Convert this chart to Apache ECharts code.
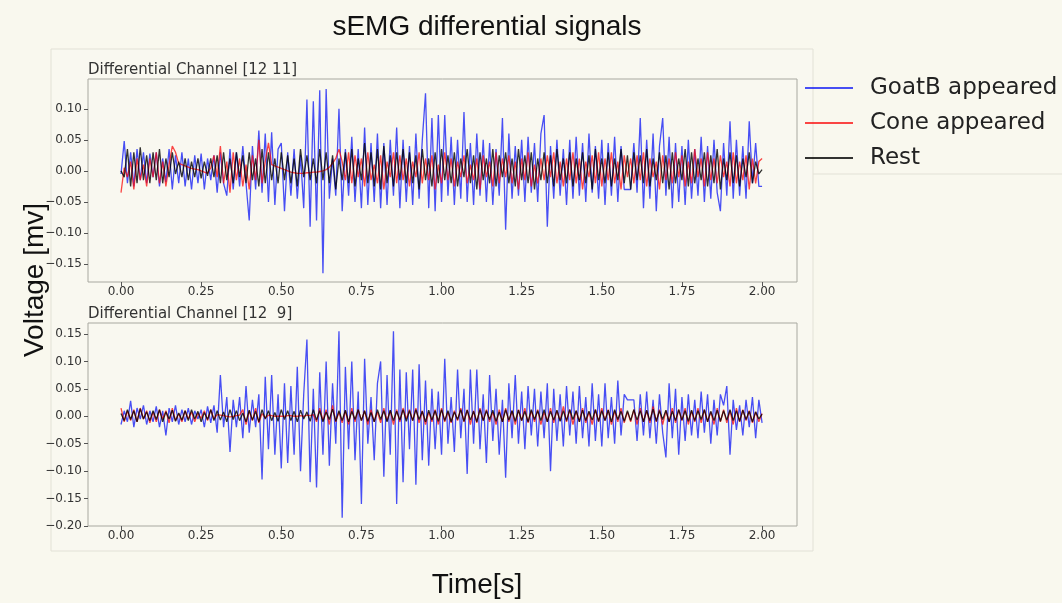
<!DOCTYPE html>
<html>
<head>
<meta charset="utf-8">
<script src="https://cdn.jsdelivr.net/npm/echarts@6/dist/echarts.min.js"></script>
<style>
html,body{margin:0;padding:0;background:#f9f8ee;}
#chart{width:1062px;height:603px;}
</style>
</head>
<body>
<div id="chart"></div>
<script>
// ---- data ----
const titleText = 'sEMG differential signals';
const yAxisTitle = 'Voltage [mv]';
const xAxisTitle = 'Time[s]';
const panelTitles = ['Differential Channel [12 11]', 'Differential Channel [12  9]'];
const seriesNames = ['GoatB appeared', 'Cone appeared', 'Rest'];
const sampleStep = 0.01; // seconds between samples, first sample at 0.00 s
const xTicks = [0, 0.25, 0.5, 0.75, 1.0, 1.25, 1.5, 1.75, 2.0];
const yTicksTop = [-0.15, -0.10, -0.05, 0.00, 0.05, 0.10];
const yTicksBottom = [-0.20, -0.15, -0.10, -0.05, 0.00, 0.05, 0.10, 0.15];

// Channel [12 11]
const goatTop = [
 -0.005, 0.048, -0.02, 0.03, -0.025, 0.035, -0.015, 0.03, -0.02, 0.028,
 -0.01, 0.03, -0.025, 0.02, -0.018, 0.035, -0.03, 0.025, -0.02, 0.03,
 -0.025, 0.02, -0.03, 0.025, -0.02, 0.028, -0.03, 0.02, -0.015, 0.025,
 -0.035, 0.03, -0.02, -0.04, 0.035, -0.03, 0.03, -0.025, 0.04, -0.02,
 -0.08, 0.04, -0.03, 0.065, -0.035, 0.06, -0.05, 0.062, -0.055, 0.035,
 0.045, -0.065, 0.03, -0.04, 0.035, -0.045, 0.025, -0.06, 0.115, -0.09,
 0.112, -0.08, 0.13, -0.165, 0.132, -0.045, 0.02, -0.04, 0.1, -0.065,
 0.035, -0.04, 0.055, -0.05, 0.035, -0.06, 0.07, -0.055, 0.045, -0.05,
 0.06, -0.06, 0.045, -0.055, 0.05, -0.04, 0.07, -0.06, 0.05, -0.05,
 0.04, -0.055, 0.06, -0.045, 0.05, 0.125, -0.06, 0.085, -0.065, 0.09,
 -0.05, 0.09, -0.04, 0.055, -0.055, 0.05, -0.045, 0.095, -0.05, 0.045,
 -0.055, 0.06, -0.04, 0.05, -0.05, 0.045, -0.055, 0.035, -0.04, 0.085,
 -0.095, 0.06, -0.045, 0.04, -0.04, 0.05, -0.05, 0.055, -0.035, 0.045,
 -0.05, 0.06, 0.09, -0.09, 0.04, -0.045, 0.05, -0.04, 0.035, -0.055,
 0.05, -0.045, 0.055, -0.04, 0.045, -0.05, 0.06, -0.035, 0.04, -0.045,
 0.05, -0.055, 0.045, -0.04, 0.055, -0.05, 0.04, -0.03, -0.03, -0.03,
 0.045, -0.035, 0.085, -0.06, 0.05, -0.045, 0.06, -0.065, 0.04, 0.085,
 -0.04, 0.055, -0.06, 0.045, -0.05, 0.04, -0.055, 0.05, -0.045, 0.035,
 -0.04, 0.055, -0.05, 0.04, -0.045, 0.05, -0.035, -0.065, 0.045, -0.04,
 0.08, -0.045, 0.05, -0.04, 0.04, -0.045, 0.08, -0.02, 0.045, -0.025,
 -0.025
];
const coneTop = [
 -0.035, 0.005, -0.01, 0.015, -0.03, 0.02, -0.015, 0.01, -0.025, 0.02,
 -0.01, 0.03, -0.02, 0.015, -0.025, 0.01, 0.04, 0.03, 0.012, 0.01,
 0.008, 0.006, 0.004, 0.003, 0.002, 0.0, -0.002, -0.004, 0.005, 0.025,
 -0.01, 0.04, -0.02, 0.015, -0.035, 0.03, -0.015, 0.02, -0.025, 0.01,
 -0.03, 0.025, -0.015, 0.05, -0.02, 0.015, 0.045, 0.01, 0.008, 0.006,
 0.004, 0.002, 0.0, -0.002, -0.003, -0.004, -0.004, -0.004, -0.003, -0.003,
 -0.002, -0.002, -0.001, 0.0, 0.002, 0.006, 0.012, 0.02, 0.035, 0.015,
 -0.015, 0.03, -0.02, 0.025, -0.01, 0.02, -0.025, 0.03, -0.015, 0.01,
 -0.02, 0.025, -0.03, 0.015, -0.01, 0.03, -0.02, 0.025, -0.015, 0.02,
 -0.025, 0.015, -0.01, 0.03, -0.02, 0.02, -0.015, 0.025, -0.03, 0.01,
 -0.02, 0.03, -0.015, 0.02, -0.025, 0.015, -0.01, 0.025, -0.02, 0.01,
 -0.015, 0.02, -0.03, 0.025, -0.01, 0.015, -0.025, 0.03, -0.02, 0.02,
 -0.01, 0.025, -0.02, 0.015, -0.03, 0.02, -0.015, 0.03, -0.025, 0.01,
 -0.02, 0.02, -0.015, 0.025, -0.01, 0.03, -0.02, 0.015, -0.025, 0.02,
 -0.015, 0.03, -0.02, 0.02, -0.03, 0.015, -0.01, 0.025, -0.02, 0.03,
 -0.025, 0.02, -0.015, 0.03, -0.02, 0.015, -0.03, 0.025, -0.01, 0.02,
 -0.02, 0.025, -0.015, 0.03, -0.025, 0.02, -0.01, 0.015, -0.03, 0.025,
 -0.015, 0.02, -0.02, 0.03, -0.01, 0.025, -0.025, 0.015, -0.02, 0.035,
 -0.01, 0.02, -0.025, 0.03, -0.015, 0.02, -0.02, 0.025, -0.01, 0.015,
 -0.025, 0.03, -0.02, 0.015, -0.015, 0.025, -0.03, 0.02, -0.02, 0.015,
 0.02
];
const restTop = [
 0.0, -0.01, 0.035, -0.025, 0.03, -0.02, 0.038, -0.015, 0.025, -0.02,
 0.03, -0.015, 0.035, -0.02, 0.02, -0.01, 0.03, -0.005, 0.015, -0.01,
 0.02, -0.015, 0.015, -0.01, 0.02, -0.012, 0.015, -0.008, 0.02, -0.01,
 0.025, -0.02, 0.03, -0.015, 0.02, -0.02, 0.03, -0.01, 0.025, -0.02,
 0.03, -0.015, 0.02, -0.025, 0.035, -0.02, 0.03, -0.015, 0.02, -0.02,
 0.03, -0.015, 0.025, -0.02, 0.02, -0.025, 0.035, -0.01, 0.025, -0.015,
 0.02, -0.02, 0.035, -0.015, 0.03, -0.02, 0.025, -0.03, 0.02, -0.015,
 0.03, -0.02, 0.035, -0.025, 0.02, -0.015, 0.045, -0.02, 0.03, -0.025,
 0.035, -0.03, 0.04, -0.02, 0.025, -0.025, 0.03, -0.015, 0.035, -0.02,
 0.03, -0.02, 0.025, -0.03, 0.035, -0.015, 0.02, -0.025, 0.03, -0.02,
 0.035, -0.015, 0.025, -0.02, 0.03, -0.025, 0.02, -0.01, 0.035, -0.02,
 0.025, -0.03, 0.03, -0.015, 0.02, -0.02, 0.035, -0.025, 0.025, -0.01,
 0.03, -0.02, 0.02, -0.025, 0.035, -0.015, 0.025, -0.02, 0.03, -0.03,
 0.02, -0.015, 0.03, -0.02, 0.025, -0.025, 0.035, -0.015, 0.02, -0.02,
 0.03, -0.025, 0.02, -0.015, 0.03, -0.02, 0.025, -0.03, 0.035, -0.015,
 0.02, -0.02, 0.03, -0.025, 0.02, -0.015, 0.035, -0.02, 0.025, -0.03,
 0.03, -0.015, 0.025, -0.02, 0.035, -0.025, 0.02, -0.015, 0.03, -0.02,
 0.025, -0.03, 0.03, -0.02, 0.02, -0.015, 0.035, -0.025, 0.03, -0.02,
 0.02, -0.015, 0.03, -0.025, 0.025, -0.02, 0.035, -0.03, 0.02, -0.015,
 0.03, -0.02, 0.025, -0.025, 0.02, -0.01, 0.03, -0.02, 0.015, -0.005,
 0.002
];

// Channel [12 9]
const goatBottom = [
 -0.015, 0.01, -0.01, 0.028, -0.02, 0.015, -0.005, 0.02, -0.015, 0.01,
 -0.01, 0.018, -0.02, 0.01, -0.035, 0.015, -0.01, 0.02, -0.015, 0.012,
 -0.01, 0.015, -0.015, 0.01, -0.005, 0.012, -0.02, 0.018, -0.012, 0.02,
 -0.03, 0.075, -0.02, 0.035, -0.065, 0.03, -0.02, 0.035, -0.04, 0.055,
 -0.03, 0.03, -0.02, 0.04, -0.115, 0.072, -0.06, 0.075, -0.07, 0.04,
 -0.095, 0.06, -0.085, 0.055, -0.07, 0.09, -0.1, 0.04, 0.14, -0.12,
 0.05, -0.13, 0.08, -0.07, 0.1, -0.09, 0.06, -0.05, 0.155, -0.185,
 0.09, -0.06, 0.1, -0.08, 0.045, -0.16, 0.105, -0.05, 0.035, -0.08,
 0.06, 0.1, -0.11, 0.075, -0.07, 0.155, -0.16, 0.085, -0.12, 0.08,
 -0.06, 0.085, -0.125, 0.095, -0.08, 0.065, -0.09, 0.05, -0.06, 0.045,
 -0.07, 0.105, -0.05, 0.035, -0.065, 0.085, -0.04, 0.05, -0.105, 0.085,
 -0.05, 0.085, -0.06, 0.04, -0.085, 0.075, -0.045, 0.05, -0.07, 0.03,
 -0.112, 0.06, -0.04, 0.075, -0.05, 0.045, -0.06, 0.055, -0.035, 0.05,
 -0.055, 0.045, -0.04, 0.06, -0.1, 0.05, -0.045, 0.04, -0.055, 0.055,
 -0.035, 0.045, -0.05, 0.055, -0.04, 0.035, -0.055, 0.06, -0.045, 0.04,
 -0.055, 0.06, -0.04, 0.035, -0.05, 0.065, -0.035, 0.04, 0.03, 0.03,
 0.03, -0.045, 0.04, -0.035, 0.045, -0.04, 0.03, -0.05, 0.04, -0.03,
 -0.075, 0.06, -0.04, 0.05, -0.07, 0.035, -0.045, 0.04, -0.035, 0.03,
 -0.04, 0.045, -0.03, 0.04, -0.05, 0.03, -0.035, 0.04, 0.02, 0.055,
 -0.07, 0.03, -0.025, 0.02, -0.035, 0.03, -0.02, 0.035, -0.04, 0.03,
 -0.012
];
const coneBottom = [
 0.015, -0.01, 0.01, -0.008, 0.012, -0.01, 0.015, -0.005, 0.01, -0.012,
 0.008, -0.01, 0.012, -0.005, 0.01, -0.012, 0.015, -0.008, 0.005, -0.01,
 0.01, -0.005, 0.008, -0.01, 0.006, -0.004, 0.01, -0.008, 0.012, -0.005,
 0.003, 0.002, 0.001, 0.0, -0.001, 0.0, 0.001, 0.002, 0.012, -0.015,
 0.01, -0.008, 0.015, -0.012, 0.005, -0.003, 0.002, 0.001, 0.0, 0.0,
 0.0, 0.0, 0.001, 0.001, 0.0, 0.0, 0.001, 0.0, 0.002, 0.001,
 0.003, -0.01, 0.015, -0.008, 0.012, -0.015, 0.02, -0.01, 0.008, -0.012,
 0.01, -0.015, 0.015, -0.01, 0.012, -0.008, 0.01, -0.015, 0.012, -0.01,
 0.008, -0.012, 0.015, -0.008, 0.01, -0.015, 0.012, -0.01, 0.015, -0.005,
 0.012, -0.008, 0.015, -0.012, 0.01, -0.015, 0.008, -0.01, 0.012, -0.015,
 0.015, -0.01, 0.008, -0.012, 0.01, -0.008, 0.015, -0.01, 0.012, -0.015,
 0.01, -0.012, 0.015, -0.008, 0.012, -0.01, 0.008, -0.015, 0.012, -0.01,
 0.015, -0.01, 0.01, -0.015, 0.012, -0.008, 0.015, -0.012, 0.01, -0.01,
 0.012, -0.015, 0.008, -0.01, 0.015, -0.012, 0.01, -0.008, 0.018, -0.01,
 0.012, -0.015, 0.01, -0.01, 0.015, -0.012, 0.008, -0.015, 0.012, -0.01,
 0.015, -0.008, 0.012, -0.015, 0.01, -0.01, 0.015, -0.012, 0.008, -0.01,
 0.012, -0.015, 0.015, -0.01, 0.01, -0.012, 0.018, -0.01, 0.012, -0.015,
 0.01, -0.01, 0.015, -0.012, 0.012, -0.008, 0.015, -0.015, 0.01, -0.01,
 0.015, -0.012, 0.012, -0.01, 0.008, -0.015, 0.015, -0.01, 0.012, -0.012,
 0.01, -0.015, 0.015, -0.01, 0.012, -0.008, 0.01, -0.012, 0.008, -0.01,
 0.005
];
const restBottom = [
 0.005, -0.008, 0.012, -0.006, 0.01, -0.01, 0.014, -0.005, 0.008, -0.008,
 0.01, -0.006, 0.012, -0.01, 0.008, -0.005, 0.011, -0.009, 0.006, -0.007,
 0.01, -0.008, 0.012, -0.005, 0.009, -0.01, 0.007, -0.006, 0.012, -0.008,
 0.01, -0.007, 0.008, -0.01, 0.012, -0.006, 0.01, -0.008, 0.006, -0.01,
 0.011, -0.007, 0.009, -0.01, 0.012, -0.005, 0.01, -0.008, 0.007, -0.009,
 0.012, -0.006, 0.01, -0.008, 0.009, -0.01, 0.011, -0.005, 0.008, -0.009,
 0.012, -0.007, 0.01, -0.01, 0.008, -0.006, 0.013, -0.009, 0.01, -0.008,
 0.011, -0.01, 0.009, -0.006, 0.012, -0.008, 0.01, -0.009, 0.007, -0.01,
 0.012, -0.006, 0.01, -0.01, 0.011, -0.008, 0.009, -0.007, 0.012, -0.009,
 0.01, -0.008, 0.012, -0.006, 0.009, -0.01, 0.011, -0.007, 0.01, -0.009,
 0.012, -0.008, 0.01, -0.01, 0.008, -0.006, 0.012, -0.009, 0.011, -0.007,
 0.009, -0.01, 0.012, -0.008, 0.01, -0.006, 0.011, -0.009, 0.008, -0.01,
 0.012, -0.007, 0.01, -0.009, 0.011, -0.008, 0.009, -0.01, 0.012, -0.006,
 0.01, -0.008, 0.012, -0.01, 0.009, -0.007, 0.011, -0.009, 0.01, -0.008,
 0.012, -0.006, 0.01, -0.01, 0.011, -0.008, 0.009, -0.007, 0.012, -0.009,
 0.01, -0.008, 0.011, -0.01, 0.012, -0.006, 0.009, -0.009, 0.01, -0.008,
 0.012, -0.007, 0.01, -0.01, 0.011, -0.008, 0.013, -0.009, 0.01, -0.006,
 0.011, -0.01, 0.009, -0.008, 0.012, -0.007, 0.01, -0.009, 0.011, -0.008,
 0.01, -0.006, 0.012, -0.01, 0.009, -0.008, 0.011, -0.009, 0.01, -0.007,
 0.012, -0.008, 0.01, -0.009, 0.011, -0.006, 0.009, -0.01, 0.008, -0.005,
 0.004
];

// ---- chart ----
function withTime(values) {
  return values.map((v, i) => [+(i * sampleStep).toFixed(4), v]);
}
const colors = ['rgba(20,30,245,0.78)', 'rgba(250,10,10,0.75)', 'rgba(0,0,0,0.8)'];
const tickFont = { fontFamily: 'DejaVu Sans', fontSize: 12, color: '#333' };
function fmt(v) {
  const s = Math.abs(v).toFixed(2);
  return (v < -1e-9 ? '\u2212' : '') + s;
}
function xAxis(gi) {
  return {
    type: 'value', gridIndex: gi, min: -0.103, max: 2.109,
    splitLine: { show: false },
    axisLine: { show: false, onZero: false },
    axisTick: { show: true, customValues: xTicks, length: 4, lineStyle: { color: '#555' } },
    axisLabel: { customValues: xTicks, formatter: fmt, margin: 4, ...tickFont }
  };
}
function yAxis(gi, min, max, ticks) {
  return {
    type: 'value', gridIndex: gi, min: min, max: max,
    splitLine: { show: false },
    axisLine: { show: false, onZero: false },
    axisTick: { show: true, customValues: ticks, length: 4, lineStyle: { color: '#555' } },
    axisLabel: { customValues: ticks, formatter: fmt, margin: 6, ...tickFont }
  };
}
function lineSeries(name, values, idx, gi) {
  return {
    name: name, type: 'line', xAxisIndex: gi, yAxisIndex: gi,
    data: withTime(values), showSymbol: false, symbol: 'none',
    lineStyle: { color: colors[idx], width: 1.3 },
    itemStyle: { color: colors[idx] },
    animation: false, silent: true
  };
}
const chart = echarts.init(document.getElementById('chart'), null, { renderer: 'canvas' });
chart.setOption({
  backgroundColor: '#f9f8ee',
  animation: false,
  title: [
    { text: titleText, left: 482, top: 8, textAlign: 'center',
      textStyle: { fontFamily: 'Liberation Sans', fontSize: 28, fontWeight: 'normal', color: '#111' } },
    { text: panelTitles[0], left: 88, top: 63, padding: 0,
      textStyle: { fontFamily: 'DejaVu Sans', fontSize: 15, fontWeight: 'normal', color: '#333' } },
    { text: panelTitles[1], left: 88, top: 307, padding: 0,
      textStyle: { fontFamily: 'DejaVu Sans', fontSize: 15, fontWeight: 'normal', color: '#333' } },
    { text: xAxisTitle, left: 472, top: 566, textAlign: 'center',
      textStyle: { fontFamily: 'Liberation Sans', fontSize: 28, fontWeight: 'normal', color: '#111' } }
  ],
  graphic: [
    { type: 'rect', shape: { x: 51, y: 49, width: 762, height: 502 },
      style: { fill: 'rgba(255,255,255,0.12)', stroke: '#e2e1d6', lineWidth: 1 }, z: -10 },
    { type: 'line', shape: { x1: 813, y1: 174, x2: 1062, y2: 174 }, style: { stroke: '#e2e1d6', lineWidth: 1 } },
    { type: 'text', x: 35, y: 280, rotation: Math.PI / 2,
      style: { text: yAxisTitle, fontFamily: 'Liberation Sans', fontSize: 28, fill: '#111',
               textAlign: 'center', textVerticalAlign: 'middle' } }
  ],
  legend: {
    left: 805, top: 76, orient: 'vertical', padding: 0,
    itemWidth: 48, itemHeight: 2, itemGap: 11, icon: 'rect',
    data: seriesNames.map((n, i) => ({ name: n, itemStyle: { color: colors[i] } })),
    textStyle: { fontFamily: 'DejaVu Sans', fontSize: 23, color: '#222', lineHeight: 24, padding: [0, 0, 0, 12] }
  },
  grid: [
    { left: 88, top: 79, width: 709, height: 203, show: true, borderColor: '#a8a8a0', borderWidth: 1, backgroundColor: 'transparent' },
    { left: 88, top: 323, width: 709, height: 203, show: true, borderColor: '#a8a8a0', borderWidth: 1, backgroundColor: 'transparent' }
  ],
  xAxis: [xAxis(0), xAxis(1)],
  yAxis: [yAxis(0, -0.179, 0.148, yTicksTop), yAxis(1, -0.2, 0.17, yTicksBottom)],
  series: [
    lineSeries(seriesNames[0], goatTop, 0, 0),
    lineSeries(seriesNames[1], coneTop, 1, 0),
    lineSeries(seriesNames[2], restTop, 2, 0),
    lineSeries(seriesNames[0], goatBottom, 0, 1),
    lineSeries(seriesNames[1], coneBottom, 1, 1),
    lineSeries(seriesNames[2], restBottom, 2, 1)
  ]
});
</script>
</body>
</html>
